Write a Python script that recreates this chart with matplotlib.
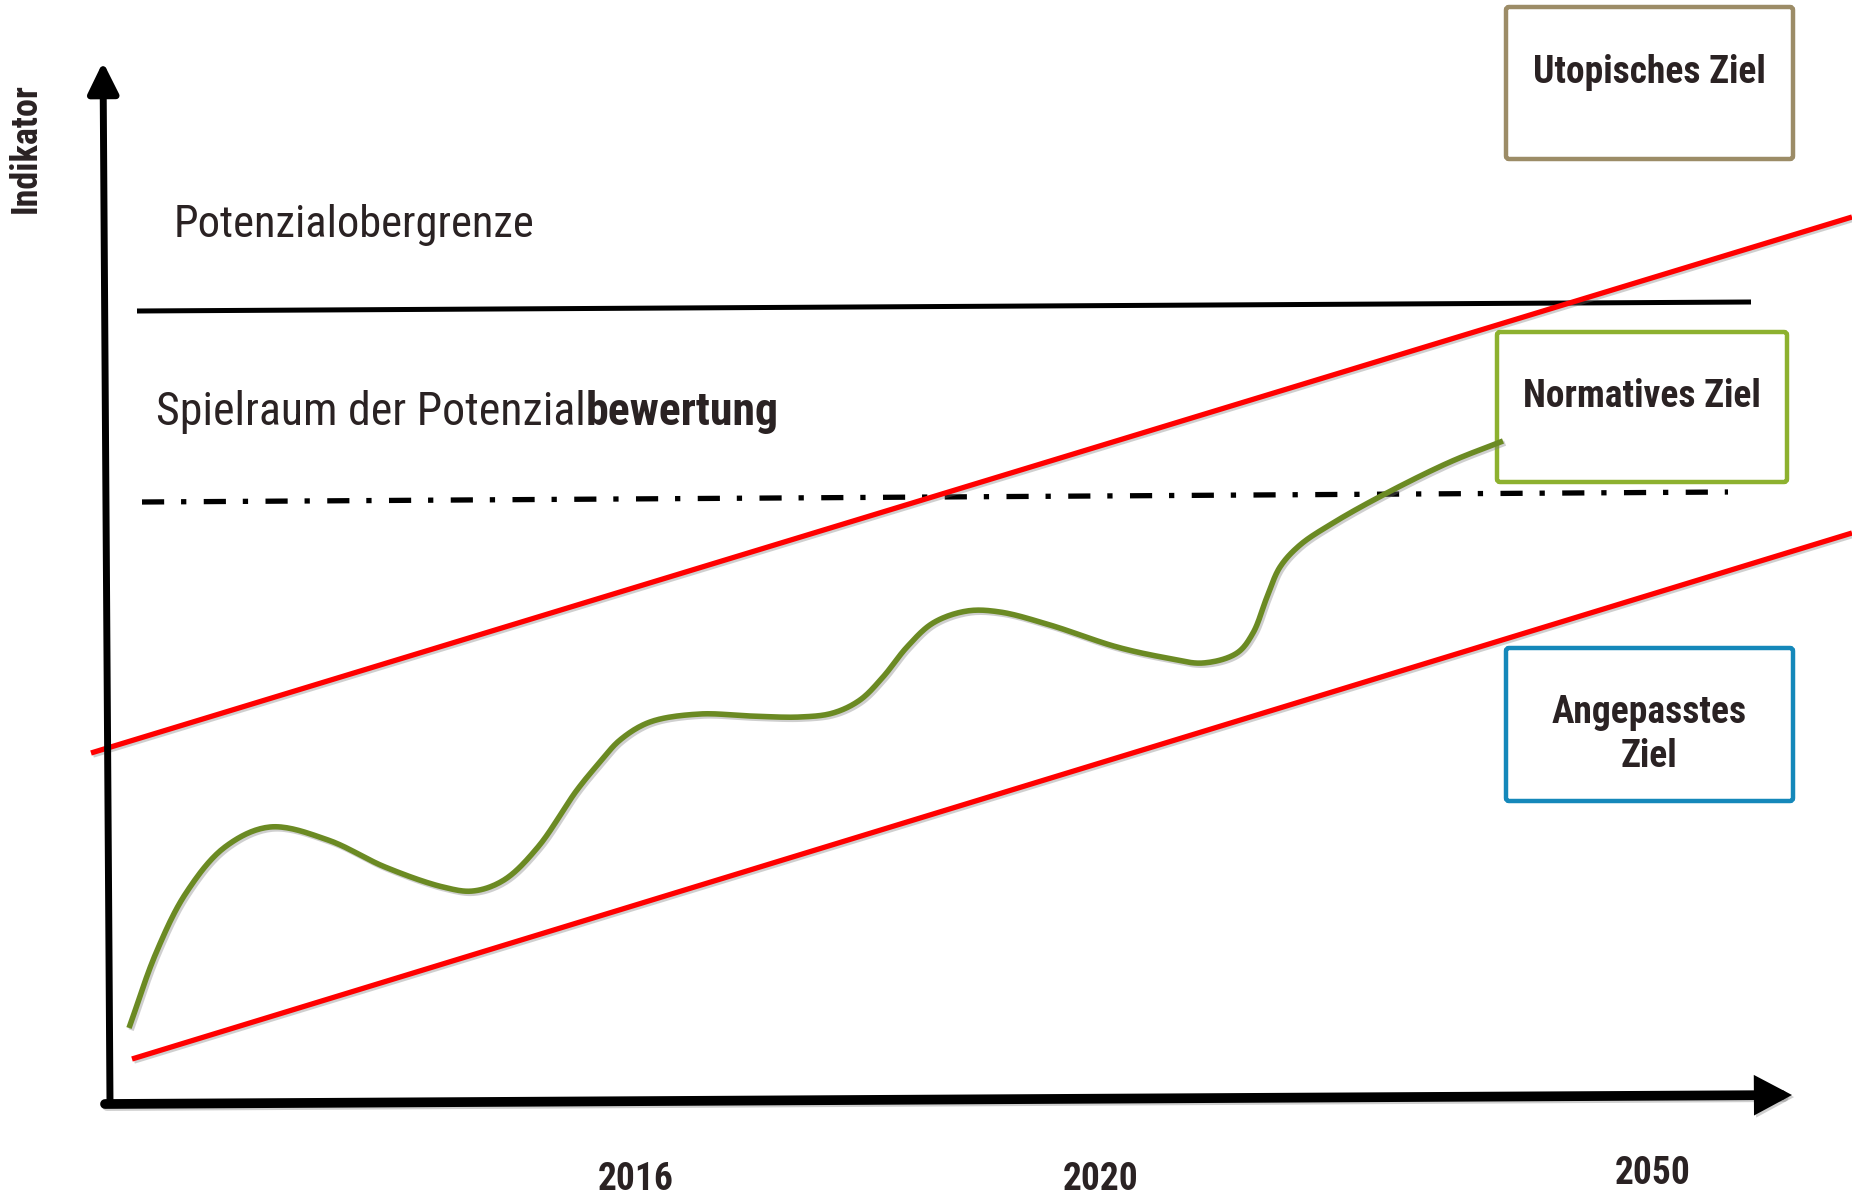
import numpy as np
import matplotlib
matplotlib.use("Agg")
import matplotlib.pyplot as plt
import matplotlib.patheffects as pe
from matplotlib.patches import FancyArrowPatch, FancyBboxPatch

plt.rcParams['font.family'] = ['Roboto Condensed', 'Barlow Condensed', 'DejaVu Sans']

# schematic, everything in picture units (x right, y down)
curve_x = [129, 156, 186, 225, 270, 328, 385, 443, 473, 504, 538, 577, 600, 620, 650,
           700, 750, 800, 833, 860, 883, 907, 933, 967, 1000, 1050, 1117, 1167, 1203,
           1237, 1253, 1267, 1280, 1300, 1333, 1383, 1450, 1503]
curve_y = [1028, 953, 893, 847, 827, 840, 867, 887, 891, 880, 847, 790, 762, 740, 722,
           714, 716, 717, 713, 700, 677, 647, 623, 611, 612, 625, 647, 658, 663,
           653, 633, 597, 567, 545, 523, 495, 462, 441]

upper_red_x = [91, 1852]
upper_red_y = [753, 217]
lower_red_x = [132, 1852]
lower_red_y = [1059, 533]

limit_x = [137, 1751]
limit_y = [311, 302]
range_x = [142, 1728]
range_y = [502, 492]

year_labels = ['2016', '2020', '2050']
year_x = [636, 1101, 1653]
year_y = [1190, 1190, 1184]

boxes = [
    # label lines, x0, y0, x1, y1, colour
    (['Utopisches Ziel'], 1506, 7, 1793, 159, '#9C8C67'),
    (['Normatives Ziel'], 1497, 332, 1787, 482, '#8DB12F'),
    (['Angepasstes', 'Ziel'], 1506, 648, 1793, 801, '#1588BA'),
]

txt_col = '#2A2223'


def catmull_rom(xs, ys, n=20, alpha=0.5):
    # centripetal Catmull-Rom through the read-off points
    p = np.column_stack([xs, ys]).astype(float)
    p = np.vstack([2 * p[0] - p[1], p, 2 * p[-1] - p[-2]])
    out = []
    for i in range(1, len(p) - 2):
        p0, p1, p2, p3 = p[i - 1], p[i], p[i + 1], p[i + 2]
        t0 = 0.0
        t1 = t0 + np.linalg.norm(p1 - p0) ** alpha
        t2 = t1 + np.linalg.norm(p2 - p1) ** alpha
        t3 = t2 + np.linalg.norm(p3 - p2) ** alpha
        t = np.linspace(t1, t2, n, endpoint=False)[:, None]
        a1 = (t1 - t) / (t1 - t0) * p0 + (t - t0) / (t1 - t0) * p1
        a2 = (t2 - t) / (t2 - t1) * p1 + (t - t1) / (t2 - t1) * p2
        a3 = (t3 - t) / (t3 - t2) * p2 + (t - t2) / (t3 - t2) * p3
        b1 = (t2 - t) / (t2 - t0) * a1 + (t - t0) / (t2 - t0) * a2
        b2 = (t3 - t) / (t3 - t1) * a2 + (t - t1) / (t3 - t1) * a3
        out.append((t2 - t) / (t2 - t1) * b1 + (t - t1) / (t2 - t1) * b2)
    out.append(p[-2][None, :])
    out = np.vstack(out)
    return out[:, 0], out[:, 1]


fig = plt.figure(figsize=(18.52, 11.96), dpi=100)
ax = fig.add_axes([0, 0, 1, 1])
ax.set_xlim(0, 1852)
ax.set_ylim(1196, 0)
ax.axis('off')

shadow = [pe.SimpleLineShadow(offset=(1.5, -1.5), shadow_color='#777777', alpha=0.35), pe.Normal()]

# axes arrows
y_arrow = FancyArrowPatch((110, 1104), (103, 62), arrowstyle='-|>,head_length=0.85,head_width=0.42',
                          mutation_scale=22, lw=5, color='black', shrinkA=0, shrinkB=0, zorder=5)
ax.add_patch(y_arrow)
x_arrow = FancyArrowPatch((105, 1104), (1792, 1095), arrowstyle='-|>,head_length=0.75,head_width=0.40',
                          mutation_scale=22, lw=7, color='black', shrinkA=0, shrinkB=0, zorder=5,
                          joinstyle='miter')
x_arrow.set_path_effects(shadow)
ax.add_patch(x_arrow)

# horizontal reference lines
ax.plot(limit_x, limit_y, color='black', lw=3.6, solid_capstyle='butt', zorder=3)
ax.plot(range_x, range_y, color='black', lw=3.8, dash_capstyle='butt',
        dashes=(4.2, 3.2, 1.0, 3.3), zorder=3)

# corridor
ax.plot(upper_red_x, upper_red_y, color='#FF0000', lw=3.8, solid_capstyle='butt',
        path_effects=shadow, zorder=4)
ax.plot(lower_red_x, lower_red_y, color='#FF0000', lw=3.8, solid_capstyle='butt',
        path_effects=shadow, zorder=4)

# indicator path
sx, sy = catmull_rom(curve_x, curve_y)
ax.plot(sx, sy, color='#6B8A23', lw=4.0, solid_capstyle='butt', path_effects=shadow, zorder=6.5)

# target boxes
for lines, x0, y0, x1, y1, col in boxes:
    box = FancyBboxPatch((x0, y0), x1 - x0, y1 - y0, boxstyle='round,pad=0,rounding_size=3',
                         fc='white', ec=col, lw=3.2, zorder=6)
    ax.add_patch(box)
    cx = (x0 + x1) / 2
    if len(lines) == 1:
        base = [y0 + 0.50 * (y1 - y0)]
    else:
        base = [y0 + 0.49 * (y1 - y0), y0 + 0.78 * (y1 - y0)]
    for line, b in zip(lines, base):
        ax.text(cx, b, line, ha='center', va='baseline', fontsize=27, fontweight='bold',
                color=txt_col, zorder=7)

# texts
ax.text(26, 148, 'Indikator', rotation=90, ha='center', va='center', fontsize=26,
        fontweight='bold', color=txt_col)
ax.text(174, 237, 'Potenzialobergrenze', ha='left', va='baseline', fontsize=32, color=txt_col)
t1 = ax.text(156, 425, 'Spielraum der Potenzial', ha='left', va='baseline', fontsize=33, color=txt_col)
ax.annotate('bewertung', xy=(1, 0), xycoords=t1, ha='left', va='bottom', fontsize=33,
            fontweight='bold', color=txt_col)

for lab, xx, yy in zip(year_labels, year_x, year_y):
    ax.text(xx, yy, lab, ha='center', va='baseline', fontsize=27, fontweight='bold', color=txt_col)

fig.savefig('out.png', dpi=100, facecolor='white')
